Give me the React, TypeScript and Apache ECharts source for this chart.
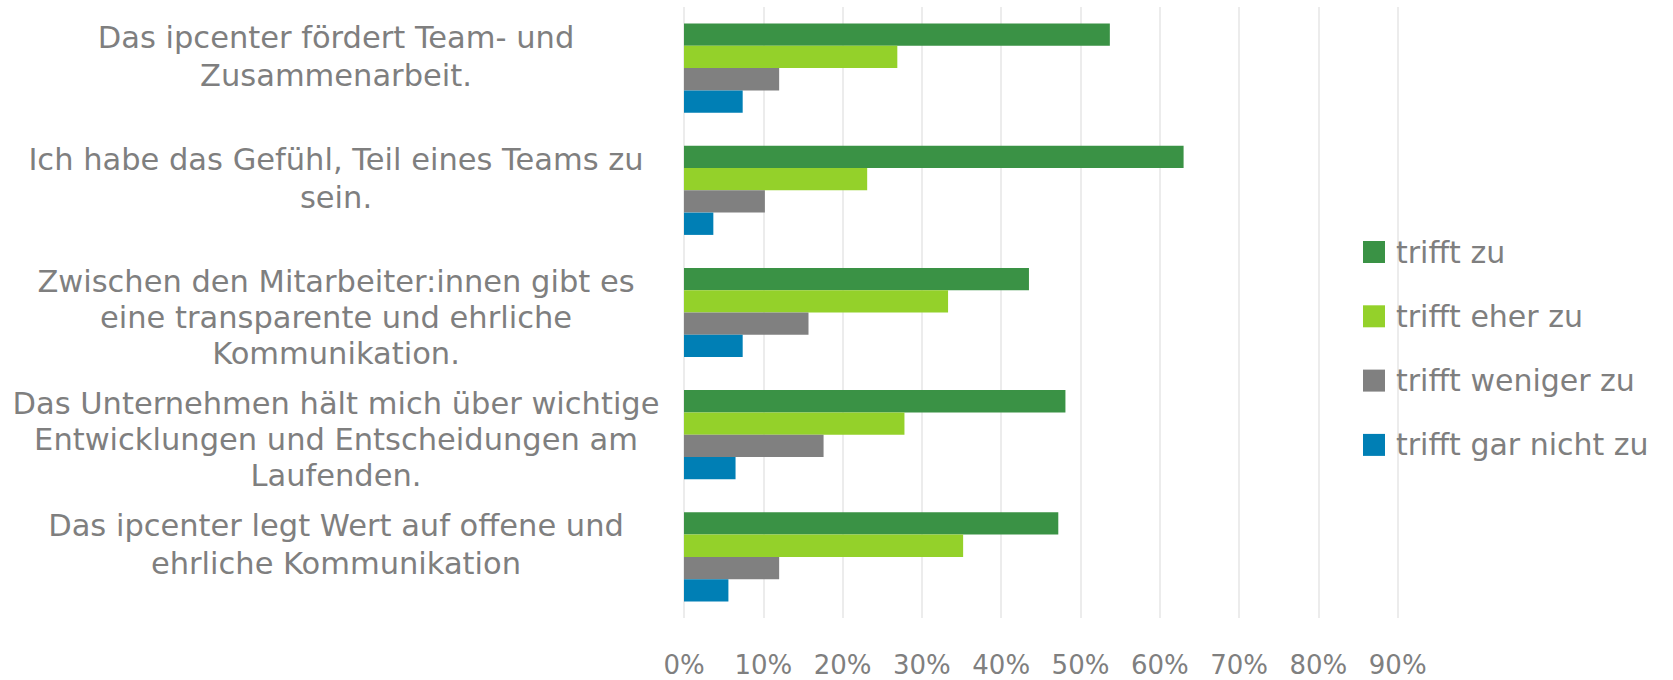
import React, { useEffect, useRef } from "react";
import * as echarts from "echarts";

const categories = [
  "Das ipcenter fördert Team- und\nZusammenarbeit.",
  "Ich habe das Gefühl, Teil eines Teams zu\nsein.",
  "Zwischen den Mitarbeiter:innen gibt es\neine transparente und ehrliche\nKommunikation.",
  "Das Unternehmen hält mich über wichtige\nEntwicklungen und Entscheidungen am\nLaufenden.",
  "Das ipcenter legt Wert auf offene und\nehrliche Kommunikation",
];

const seriesNames = ["trifft zu", "trifft eher zu", "trifft weniger zu", "trifft gar nicht zu"];

const trifftZu = [53.7, 63.0, 43.5, 48.1, 47.2];
const trifftEherZu = [26.9, 23.1, 33.3, 27.8, 35.2];
const trifftWenigerZu = [12.0, 10.2, 15.7, 17.6, 12.0];
const trifftGarNichtZu = [7.4, 3.7, 7.4, 6.5, 5.6];

const xTicks = [0, 10, 20, 30, 40, 50, 60, 70, 80, 90];

const colors = ["#3A9245", "#94D12A", "#808080", "#007FB5"];

export default function App() {
  const ref = useRef<HTMLDivElement>(null);

  useEffect(() => {
    if (!ref.current) return;
    const chart = echarts.init(ref.current, null, { renderer: "svg" });
    const values = [trifftZu, trifftEherZu, trifftWenigerZu, trifftGarNichtZu];
    const font = "DejaVu Sans";
    const labelBase = { color: "#7f7f7f", fontFamily: font, fontSize: 30.5, align: "center" };
    chart.setOption({
      animation: false,
      backgroundColor: "#ffffff",
      grid: { left: 684, right: 275.3, top: 7, bottom: 62, containLabel: false },
      xAxis: {
        type: "value",
        min: xTicks[0],
        max: xTicks[xTicks.length - 1],
        interval: 10,
        axisLine: { show: false },
        axisTick: { show: false },
        splitLine: { show: true, lineStyle: { color: "#e6e6e6", width: 1.5 } },
        axisLabel: {
          formatter: "{value}%",
          color: "#7f7f7f",
          fontFamily: font,
          fontSize: 26,
          lineHeight: 22,
          margin: 36,
        },
      },
      yAxis: {
        type: "category",
        data: categories,
        inverse: true,
        axisLine: { show: false },
        axisTick: { show: false },
        splitLine: { show: false },
        axisLabel: {
          align: "center",
          margin: 348,
          color: "#7f7f7f",
          fontFamily: font,
          fontSize: 30.5,
          lineHeight: 38,
          formatter: (value: string) => {
            const lines = value.split("\n");
            if (lines.length === 2) {
              return `{t2|${lines[0]}}\n{t2|${lines[1]}}\n{sp| }`;
            }
            return `{sp3| }\n` + lines.map((l) => `{t3|${l}}`).join("\n");
          },
          rich: {
            t2: { ...labelBase, lineHeight: 38 },
            t3: { ...labelBase, lineHeight: 36 },
            sp: { fontSize: 4, lineHeight: 24 },
            sp3: { fontSize: 2, lineHeight: 10 },
          },
        },
      },
      legend: {
        orient: "vertical",
        left: 1363,
        top: 237,
        padding: 0,
        itemWidth: 22,
        itemHeight: 22,
        itemGap: 34.3,
        icon: "rect",
        data: seriesNames,
        textStyle: {
          color: "#7f7f7f",
          fontFamily: font,
          fontSize: 30,
          padding: [0, 0, 0, 6],
        },
      },
      series: seriesNames.map((name, i) => ({
        name,
        type: "bar",
        data: values[i],
        barGap: "0%",
        barCategoryGap: "27%",
        itemStyle: { color: colors[i] },
      })),
    });
    return () => chart.dispose();
  }, []);

  return (
    <div
      ref={ref}
      style={{ position: "fixed", left: 0, top: 0, width: 1673, height: 680 }}
    />
  );
}
